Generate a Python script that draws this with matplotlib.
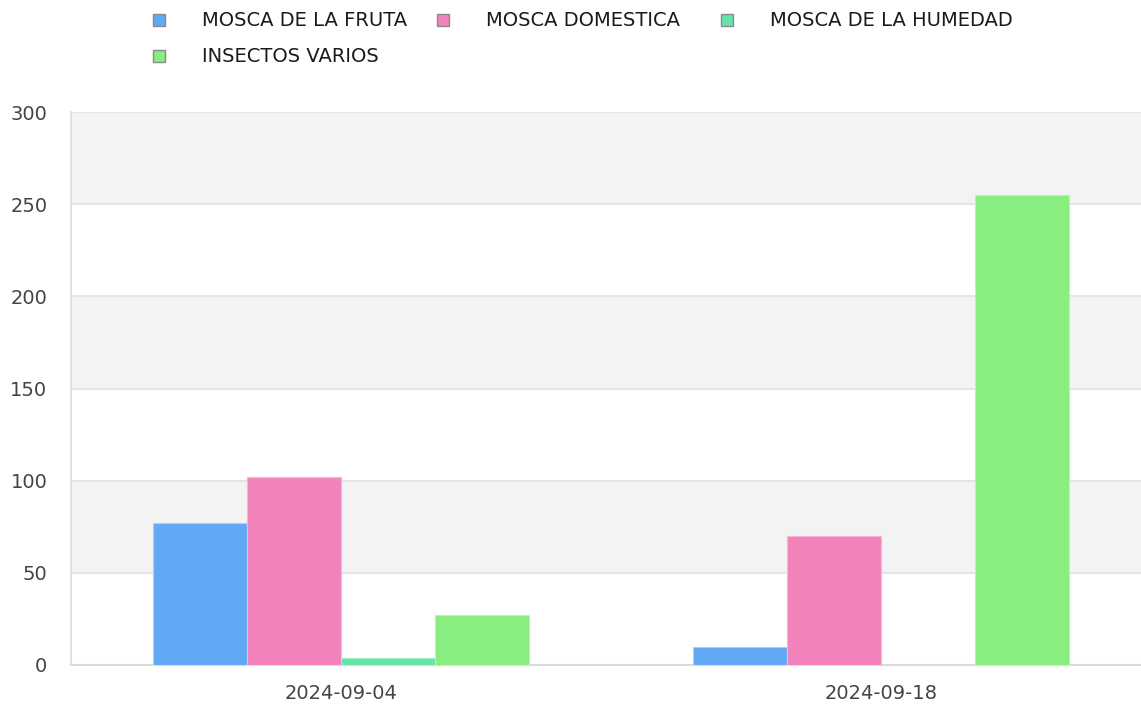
import matplotlib
matplotlib.use("Agg")
import matplotlib.pyplot as plt
import matplotlib.patches as patches
import numpy as np

fechas = ["2024-09-04", "2024-09-18"]
series = ["MOSCA DE LA FRUTA", "MOSCA DOMESTICA", "MOSCA DE LA HUMEDAD", "INSECTOS VARIOS"]
mosca_fruta = [77, 10]
mosca_domestica = [102, 70]
mosca_humedad = [4, 0]
insectos_varios = [27, 255]
colores = ["#62a9f5", "#f283ba", "#64e4aa", "#88ee80"]
bordes = ["#a9cffa", "#f8b5d6", "#a3f0cd", "#b8f5b2"]
y_ticks = [0, 50, 100, 150, 200, 250, 300]

valores = [mosca_fruta, mosca_domestica, mosca_humedad, insectos_varios]

W, H = 1141, 706
fig = plt.figure(figsize=(W / 100, H / 100), dpi=100)
# plot area runs slightly past the right edge, like the original
ax = fig.add_axes([71 / W, (H - 665) / H, 1080 / W, (665 - 112) / H])

x = np.arange(len(fechas))
ancho = 0.174
for i, (nombre, vals) in enumerate(zip(series, valores)):
    pos = x + (i - 1.5) * ancho
    ax.bar(pos, vals, width=ancho, color=colores[i], edgecolor=bordes[i],
           linewidth=0.8, zorder=3, label=nombre)

ax.set_xlim(-0.5, len(fechas) - 0.5)
ax.set_ylim(0, 300)

# alternating bands
for k in range(len(y_ticks) - 1):
    if k % 2 == 1:
        ax.axhspan(y_ticks[k], y_ticks[k + 1], color="#f3f3f3", zorder=0, lw=0)
for t in y_ticks[1:]:
    ax.axhline(t, color="#e2e2e2", lw=1.2, zorder=1)

ax.set_yticks(y_ticks)
ax.set_xticks(x)
ax.set_xticklabels(fechas)
ax.tick_params(axis="both", length=0, labelsize=14, labelcolor="#444444")
ax.tick_params(axis="x", pad=14)
ax.tick_params(axis="y", pad=17)
for lbl in ax.get_yticklabels():
    lbl.set_horizontalalignment("right")

for s in ["top", "right"]:
    ax.spines[s].set_visible(False)
ax.spines["left"].set_color("#dcdcdc")
ax.spines["bottom"].set_color("#dcdcdc")
ax.spines["left"].set_linewidth(1.2)
ax.spines["bottom"].set_linewidth(1.5)

# legend laid out in 3 columns, 2 rows
for i, nombre in enumerate(series):
    col, fila = i % 3, i // 3
    mx = 153 + col * 284
    my = 20 + fila * 36
    fig.patches.append(patches.Rectangle((mx / W, 1 - (my + 6) / H), 12 / W, 12 / H,
                                         transform=fig.transFigure, facecolor=colores[i],
                                         edgecolor="#8a8a8a", linewidth=1.0))
    fig.text((mx + 49) / W, 1 - my / H, nombre, fontsize=14, color="#1a1a1a",
             va="center", ha="left")

fig.savefig("out.png", dpi=100)
